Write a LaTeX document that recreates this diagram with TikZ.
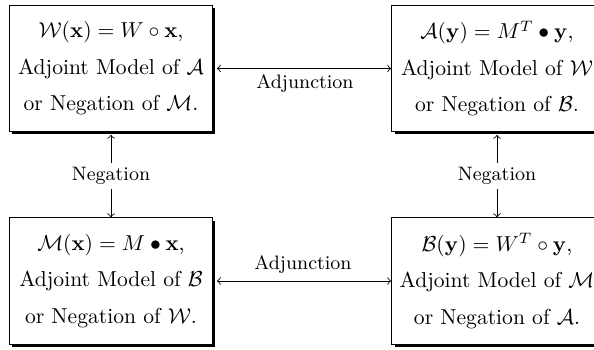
\documentclass[tikz,border=0pt]{standalone}
\usetikzlibrary{shadows}
\begin{document}
\begin{tikzpicture}[x=0.463pt,y=-0.463pt,
  box/.style={draw=black, line width=0.5pt, fill=white,
    minimum width=94pt, minimum height=58.5pt, inner sep=0pt, align=center,
    drop shadow={shadow xshift=1.3pt, shadow yshift=-1.3pt, fill=black, opacity=1}},
  wbox/.style={box, minimum width=97.5pt},
  lab/.style={font=\small, inner sep=2pt},
  conn/.style={->, line width=0.4pt}]
\useasboundingbox (0,0) rectangle (594,350);
\node[box] (W) at (111,68.5) {$\mathcal{W}(\mathbf{x}) = W\circ\mathbf{x}$,\\[4.9pt] Adjoint Model of $\mathcal{A}$\\[4.9pt] or Negation of $\mathcal{M}$.};
\node[wbox] (A) at (497,68.5) {$\mathcal{A}(\mathbf{y}) = M^T\bullet\mathbf{y}$,\\[4.9pt] Adjoint Model of $\mathcal{W}$\\[4.9pt] or Negation of $\mathcal{B}$.};
\node[box] (M) at (111,281) {$\mathcal{M}(\mathbf{x}) = M\bullet\mathbf{x}$,\\[4.9pt] Adjoint Model of $\mathcal{B}$\\[4.9pt] or Negation of $\mathcal{W}$.};
\node[wbox] (B) at (497,281) {$\mathcal{B}(\mathbf{y}) = W^T\circ\mathbf{y}$,\\[4.9pt] Adjoint Model of $\mathcal{M}$\\[4.9pt] or Negation of $\mathcal{A}$.};
\node[lab] (adj1) at (305,84) {Adjunction};
\node[lab] (adj2) at (303,265) {Adjunction};
\node[lab] (neg1) at (111,176) {Negation};
\node[lab] (neg2) at (497,176) {Negation};
\draw[conn,<->] ([xshift=1.8pt]W.east) -- (A.west);
\draw[conn,<->] ([xshift=1.8pt]M.east) -- (B.west);
\draw[conn] (neg1) -- ([yshift=-1.2pt]W.south);
\draw[conn] (neg1) -- (M.north);
\draw[conn] (neg2) -- ([yshift=-1.2pt]A.south);
\draw[conn] (neg2) -- (B.north);
\end{tikzpicture}
\end{document}
